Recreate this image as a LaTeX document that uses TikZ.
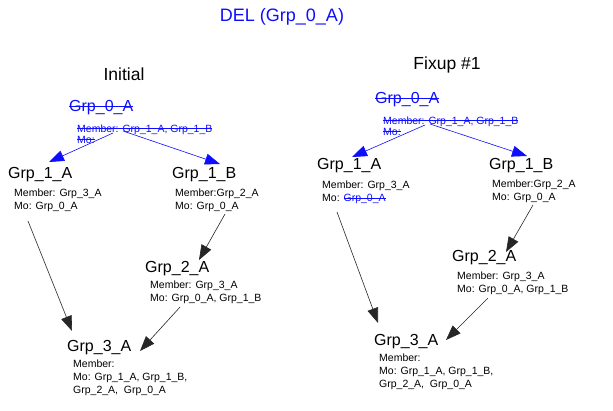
\documentclass[tikz,border=0pt]{standalone}
\usepackage{fontspec}
\setmainfont{Liberation Sans}
\usetikzlibrary{arrows.meta,calc}
\definecolor{myblue}{rgb}{0.05,0.05,1}
\newcommand{\mystrike}[1]{\leavevmode\setbox0\hbox{#1}\rlap{\rule[0.32em]{\wd0}{0.75pt}}\box0}
\begin{document}
\begin{tikzpicture}[x=1pt,y=-1pt,
  heading/.style={inner sep=0,font=\fontsize{17.5}{20}\selectfont},
  grp/.style={inner sep=0,anchor=base west,font=\fontsize{16}{19}\selectfont},
  info/.style={inner sep=0,anchor=north west,align=left,font=\fontsize{10.5}{13}\selectfont},
  binfo/.style={inner sep=0,anchor=north west,align=left,font=\fontsize{10.5}{11}\selectfont,text=myblue},
  blk/.style={draw=black!85,line width=0.6pt,-{Triangle[length=15pt,width=11pt]}},
  bl/.style={draw=myblue,line width=0.6pt,-{Triangle[length=15pt,width=11pt]}}]
\useasboundingbox (0,0) rectangle (613,410);
\node[heading,text=myblue,font=\fontsize{18}{21}\selectfont] (title) at (282,17) {DEL (Grp\_0\_A)};
\node[heading] (hinit) at (124,74) {Initial};
\node[heading] (hfix) at (447,65) {Fixup \#1};

% left: initial
\node[grp,text=myblue] (g0L) at (69,111.5) {\mystrike{Grp\_0\_A}};
\node[binfo] (i0L) at (77,124.5) {\mystrike{Member: Grp\_1\_A, Grp\_1\_B}\\\mystrike{Mo:}};
\node[grp] (g1aL) at (8,178.5) {Grp\_1\_A};
\node[info] (i1aL) at (14,189.1) {Member: Grp\_3\_A\\Mo: Grp\_0\_A};
\node[grp] (g1bL) at (172,178.5) {Grp\_1\_B};
\node[info] (i1bL) at (175,188.5) {Member:Grp\_2\_A\\Mo: Grp\_0\_A};
\node[grp] (g2L) at (145,272.5) {Grp\_2\_A};
\node[info] (i2L) at (150,281.1) {Member: Grp\_3\_A\\Mo: Grp\_0\_A, Grp\_1\_B};
\node[grp] (g3L) at (67,351.5) {Grp\_3\_A};
\node[info] (i3L) at (73,360) {Member:\\Mo: Grp\_1\_A, Grp\_1\_B,\\Grp\_2\_A,\ \ Grp\_0\_A};

\draw[bl] ($(i0L.north west)+(36,8.5)$) -- ($(g1aL.base west)+(41,-16.5)$);
\draw[bl] ($(i0L.north west)+(46,6.5)$) -- ($(g1bL.base west)+(48,-14.5)$);
\draw[blk] ($(i1aL.north west)+(14,31.9)$) -- ($(g3L.base west)+(5,-20.5)$);
\draw[blk] ($(i1bL.north west)+(50,25.5)$) -- ($(g2L.base west)+(54,-12.5)$);
\draw[blk] ($(i2L.north west)+(30,26)$) -- ($(g3L.base west)+(73,-0.5)$);

% right: fixup
\node[grp,text=myblue] (g0R) at (375,103.5) {\mystrike{Grp\_0\_A}};
\node[binfo] (i0R) at (383,116.3) {\mystrike{Member: Grp\_1\_A, Grp\_1\_B}\\\mystrike{Mo:}};
\node[grp] (g1aR) at (317,169.5) {Grp\_1\_A};
\node[info] (i1aR) at (322,181) {Member: Grp\_3\_A\\Mo: \textcolor{myblue}{\mystrike{Grp\_0\_A}}};
\node[grp] (g1bR) at (489,169.5) {Grp\_1\_B};
\node[info] (i1bR) at (492,180) {Member:Grp\_2\_A\\Mo: Grp\_0\_A};
\node[grp] (g2R) at (452,261.5) {Grp\_2\_A};
\node[info] (i2R) at (457,272) {Member: Grp\_3\_A\\Mo: Grp\_0\_A, Grp\_1\_B};
\node[grp] (g3R) at (374,345.5) {Grp\_3\_A};
\node[info] (i3R) at (379,354) {Member:\\Mo: Grp\_1\_A, Grp\_1\_B,\\Grp\_2\_A,\ \ Grp\_0\_A};

\draw[bl] ($(i0R.north west)+(42,8.7)$) -- ($(g1aR.base west)+(35,-12.5)$);
\draw[bl] ($(i0R.north west)+(47,7.7)$) -- ($(g1bR.base west)+(38,-13.5)$);
\draw[blk] ($(i1aR.north west)+(15,31)$) -- ($(g3R.base west)+(4,-22.5)$);
\draw[blk] ($(i1bR.north west)+(41,25)$) -- ($(g2R.base west)+(54,-9.5)$);
\draw[blk] ($(i2R.north west)+(31,26)$) -- ($(g3R.base west)+(72,-5.5)$);
\end{tikzpicture}
\end{document}
